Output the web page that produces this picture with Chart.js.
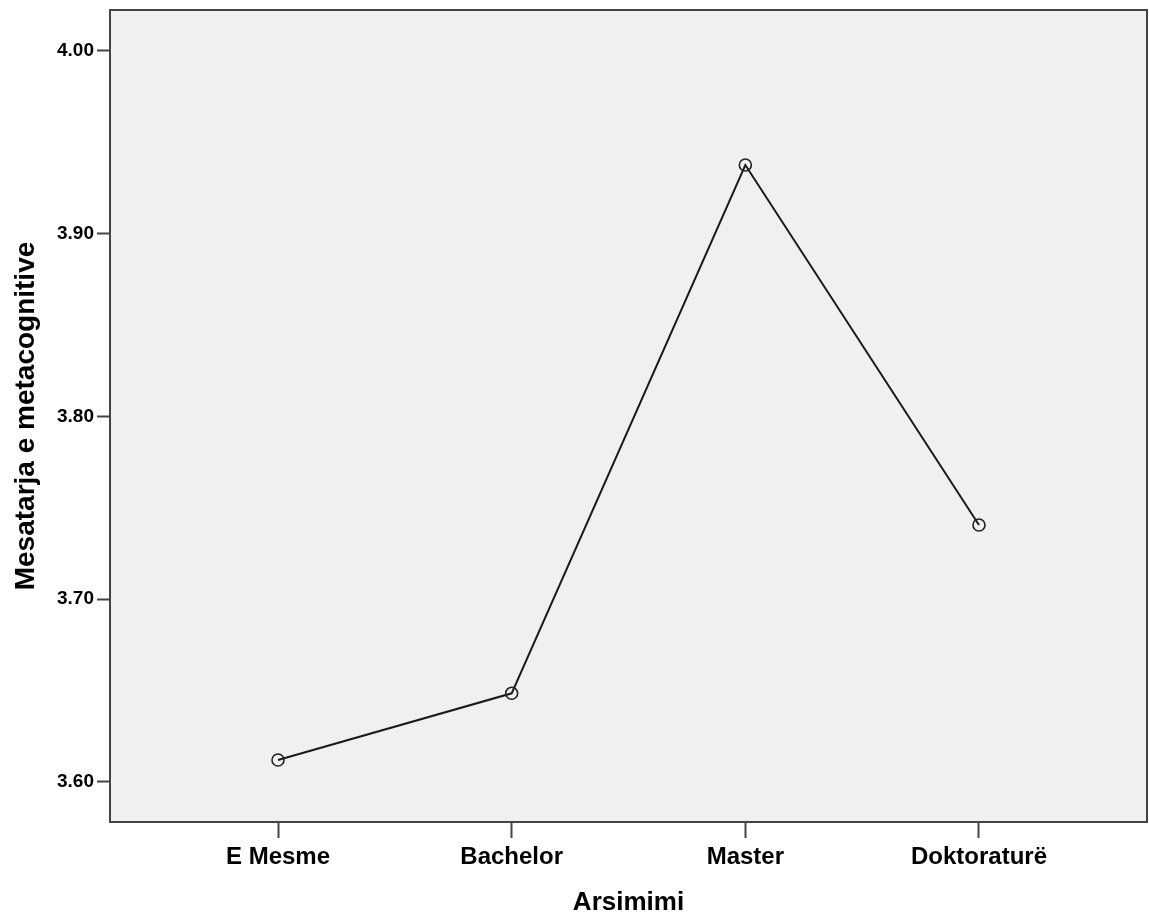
<!DOCTYPE html>
<html>
<head>
<meta charset="utf-8">
<script src="https://cdn.jsdelivr.net/npm/chart.js@4/dist/chart.umd.min.js"></script>
<style>
    html, body { margin: 0; padding: 0; background: #fff; }
    canvas { display: block; }
</style>
</head>
<body>
<canvas id="meanChart" width="1149" height="918"></canvas>
<script>
// Chart data
const categories = ['E Mesme', 'Bachelor', 'Master', 'Doktoraturë'];
const meanValues = [3.612, 3.6485, 3.9375, 3.7406];
const yTicks = [3.60, 3.70, 3.80, 3.90, 4.00];

const FONT = "'Liberation Sans', Arial, sans-serif";

/**
 * Grey plot background with a dark frame (SPSS style)
 */
const plotFrame = {
    id: 'plotFrame',
    beforeDraw(chart) {
        const { ctx, chartArea: a } = chart;
        ctx.save();
        ctx.fillStyle = '#f0f0f0';
        ctx.fillRect(a.left, a.top, a.right - a.left, a.bottom - a.top);
        ctx.restore();
    },
    afterDatasetsDraw(chart) {
        const { ctx, chartArea: a } = chart;
        ctx.save();
        ctx.strokeStyle = '#444';
        ctx.lineWidth = 2;
        ctx.strokeRect(a.left, a.top, a.right - a.left, a.bottom - a.top);
        ctx.restore();
    }
};

const ctx = document.getElementById('meanChart');

new Chart(ctx, {
    type: 'line',
    data: {
        datasets: [{
            data: meanValues.map((v, i) => ({ x: i, y: v })),
            borderColor: '#1a1a1a',
            borderWidth: 2,
            tension: 0,
            pointRadius: 6,
            pointHoverRadius: 6,
            pointBorderWidth: 1.6,
            pointBorderColor: '#222',
            pointBackgroundColor: 'rgba(0,0,0,0)'
        }]
    },
    options: {
        responsive: false,
        animation: false,
        layout: {
            autoPadding: false, // keep the plot frame at fixed edges
            padding: { top: 10, right: 2, left: 0, bottom: 0 }
        },
        plugins: {
            legend: { display: false },
            tooltip: { enabled: false }
        },
        scales: {
            x: {
                type: 'linear',
                min: -0.719,
                max: categories.length - 1 + 0.719,
                afterFit: s => {
                    s.height = 96;
                    s.paddingLeft = 0;
                    s.paddingRight = 0;
                },
                border: { display: false },
                grid: {
                    drawOnChartArea: false,
                    drawTicks: true,
                    tickLength: 16,
                    tickWidth: 2,
                    tickColor: '#444'
                },
                ticks: {
                    stepSize: 1,
                    includeBounds: false,
                    autoSkip: false,
                    maxRotation: 0,
                    padding: 5,
                    color: '#000',
                    font: { family: FONT, size: 24, weight: 'bold' },
                    callback: v => categories[v] ?? ''
                },
                title: {
                    display: true,
                    text: 'Arsimimi',
                    color: '#000',
                    padding: { top: 0, bottom: 0 },
                    font: { family: FONT, size: 26, weight: 'bold' }
                }
            },
            y: {
                min: 3.5781,
                max: 4.0223,
                afterFit: s => {
                    s.width = 110;
                    s.paddingTop = 0;
                    s.paddingBottom = 0;
                },
                afterBuildTicks: s => { s.ticks = yTicks.map(v => ({ value: v })); },
                border: { display: false },
                grid: {
                    drawOnChartArea: false,
                    drawTicks: true,
                    tickLength: 13,
                    tickWidth: 2,
                    tickColor: '#444'
                },
                ticks: {
                    padding: 3,
                    color: '#000',
                    font: { family: FONT, size: 19, weight: 'bold' },
                    callback: v => Number(v).toFixed(2)
                },
                title: {
                    display: true,
                    text: 'Mesatarja e metacognitive',
                    color: '#000',
                    padding: { top: 9, bottom: 0 },
                    font: { family: FONT, size: 28, weight: 'bold' }
                }
            }
        }
    },
    plugins: [plotFrame]
});
</script>
</body>
</html>
